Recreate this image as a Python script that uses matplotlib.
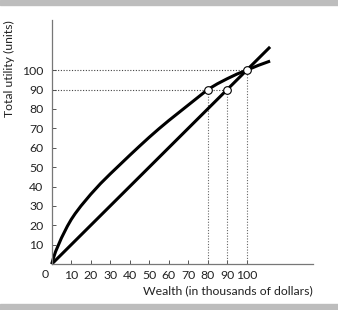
import matplotlib
matplotlib.use("Agg")
import matplotlib.pyplot as plt
from matplotlib.patches import Rectangle

plt.rcParams['font.family'] = ['Lato', 'DejaVu Sans']

# total utility curve (concave)
wealth = [0, 1, 2, 3.5, 5, 8, 10, 12, 15, 20, 25, 30, 35, 40, 45, 50, 55,
          60, 65, 70, 75, 80, 85, 90, 95, 100, 106, 112]
utility = [0, 3.5, 6.5, 10, 13.5, 19.5, 23, 26, 30, 36, 41.5, 46.5, 51.3, 56.1,
           60.8, 65.4, 69.8, 74, 78, 82, 86, 90, 93, 95.6, 98, 100, 102.5, 104.7]

# straight line (expected utility of the gamble)
line_w = [0, 112]
line_u = [0, 112]

# marked points
pts_w = [80, 90, 100]
pts_u = [90, 90, 100]

xticks = [10, 20, 30, 40, 50, 60, 70, 80, 90, 100]
yticks = [10, 20, 30, 40, 50, 60, 70, 80, 90, 100]

fig = plt.figure(figsize=(3.38, 3.10), dpi=100)
# gray bands top and bottom
fig.patches.append(Rectangle((0, 0.985), 1, 0.015, transform=fig.transFigure,
                             color='#bdbdbd', zorder=0))
fig.patches.append(Rectangle((0, 0), 1, 0.019, transform=fig.transFigure,
                             color='#bdbdbd', zorder=0))

ax = fig.add_axes([0.153, 0.148, 0.773, 0.787])
ax.set_xlim(0, 134)
ax.set_ylim(0, 125.8)

# dotted guides
ax.plot([0, 100], [100, 100], ls=(0, (1, 1.5)), lw=0.8, color='#444444')
ax.plot([0, 90], [90, 90], ls=(0, (1, 1.5)), lw=0.8, color='#444444')
for w, u in zip(pts_w, pts_u):
    ax.plot([w, w], [0, u], ls=(0, (1, 1.5)), lw=0.8, color='#666666')

ax.plot(wealth, utility, color='black', lw=2.2, clip_on=False,
        solid_capstyle='butt', solid_joinstyle='round')
ax.plot(line_w, line_u, color='black', lw=2.2, clip_on=False, solid_capstyle='butt')
ax.plot(pts_w, pts_u, 'o', ms=5.5, mfc='white', mec='black', mew=0.8, zorder=5)

for s in ['top', 'right']:
    ax.spines[s].set_visible(False)
for s in ['left', 'bottom']:
    ax.spines[s].set_color('#777777')
    ax.spines[s].set_linewidth(0.9)

ax.set_xticks(xticks)
ax.set_yticks(yticks)
ax.tick_params(direction='in', length=3, width=0.7, color='#555555',
               labelsize=8.8, labelcolor='#222222')
ax.tick_params(axis='x', pad=4)
ax.tick_params(axis='y', pad=6)
ax.text(-3.2, -2.5, '0', ha='center', va='top', fontsize=8.8, color='#222222',
        clip_on=False)

ax.set_xlabel('Wealth (in thousands of dollars)', loc='right', fontsize=8.8,
              color='#222222', labelpad=3)
ax.set_ylabel('Total utility (units)', loc='top', fontsize=8.8,
              color='#222222', labelpad=5)

fig.savefig('out.png', dpi=100)
